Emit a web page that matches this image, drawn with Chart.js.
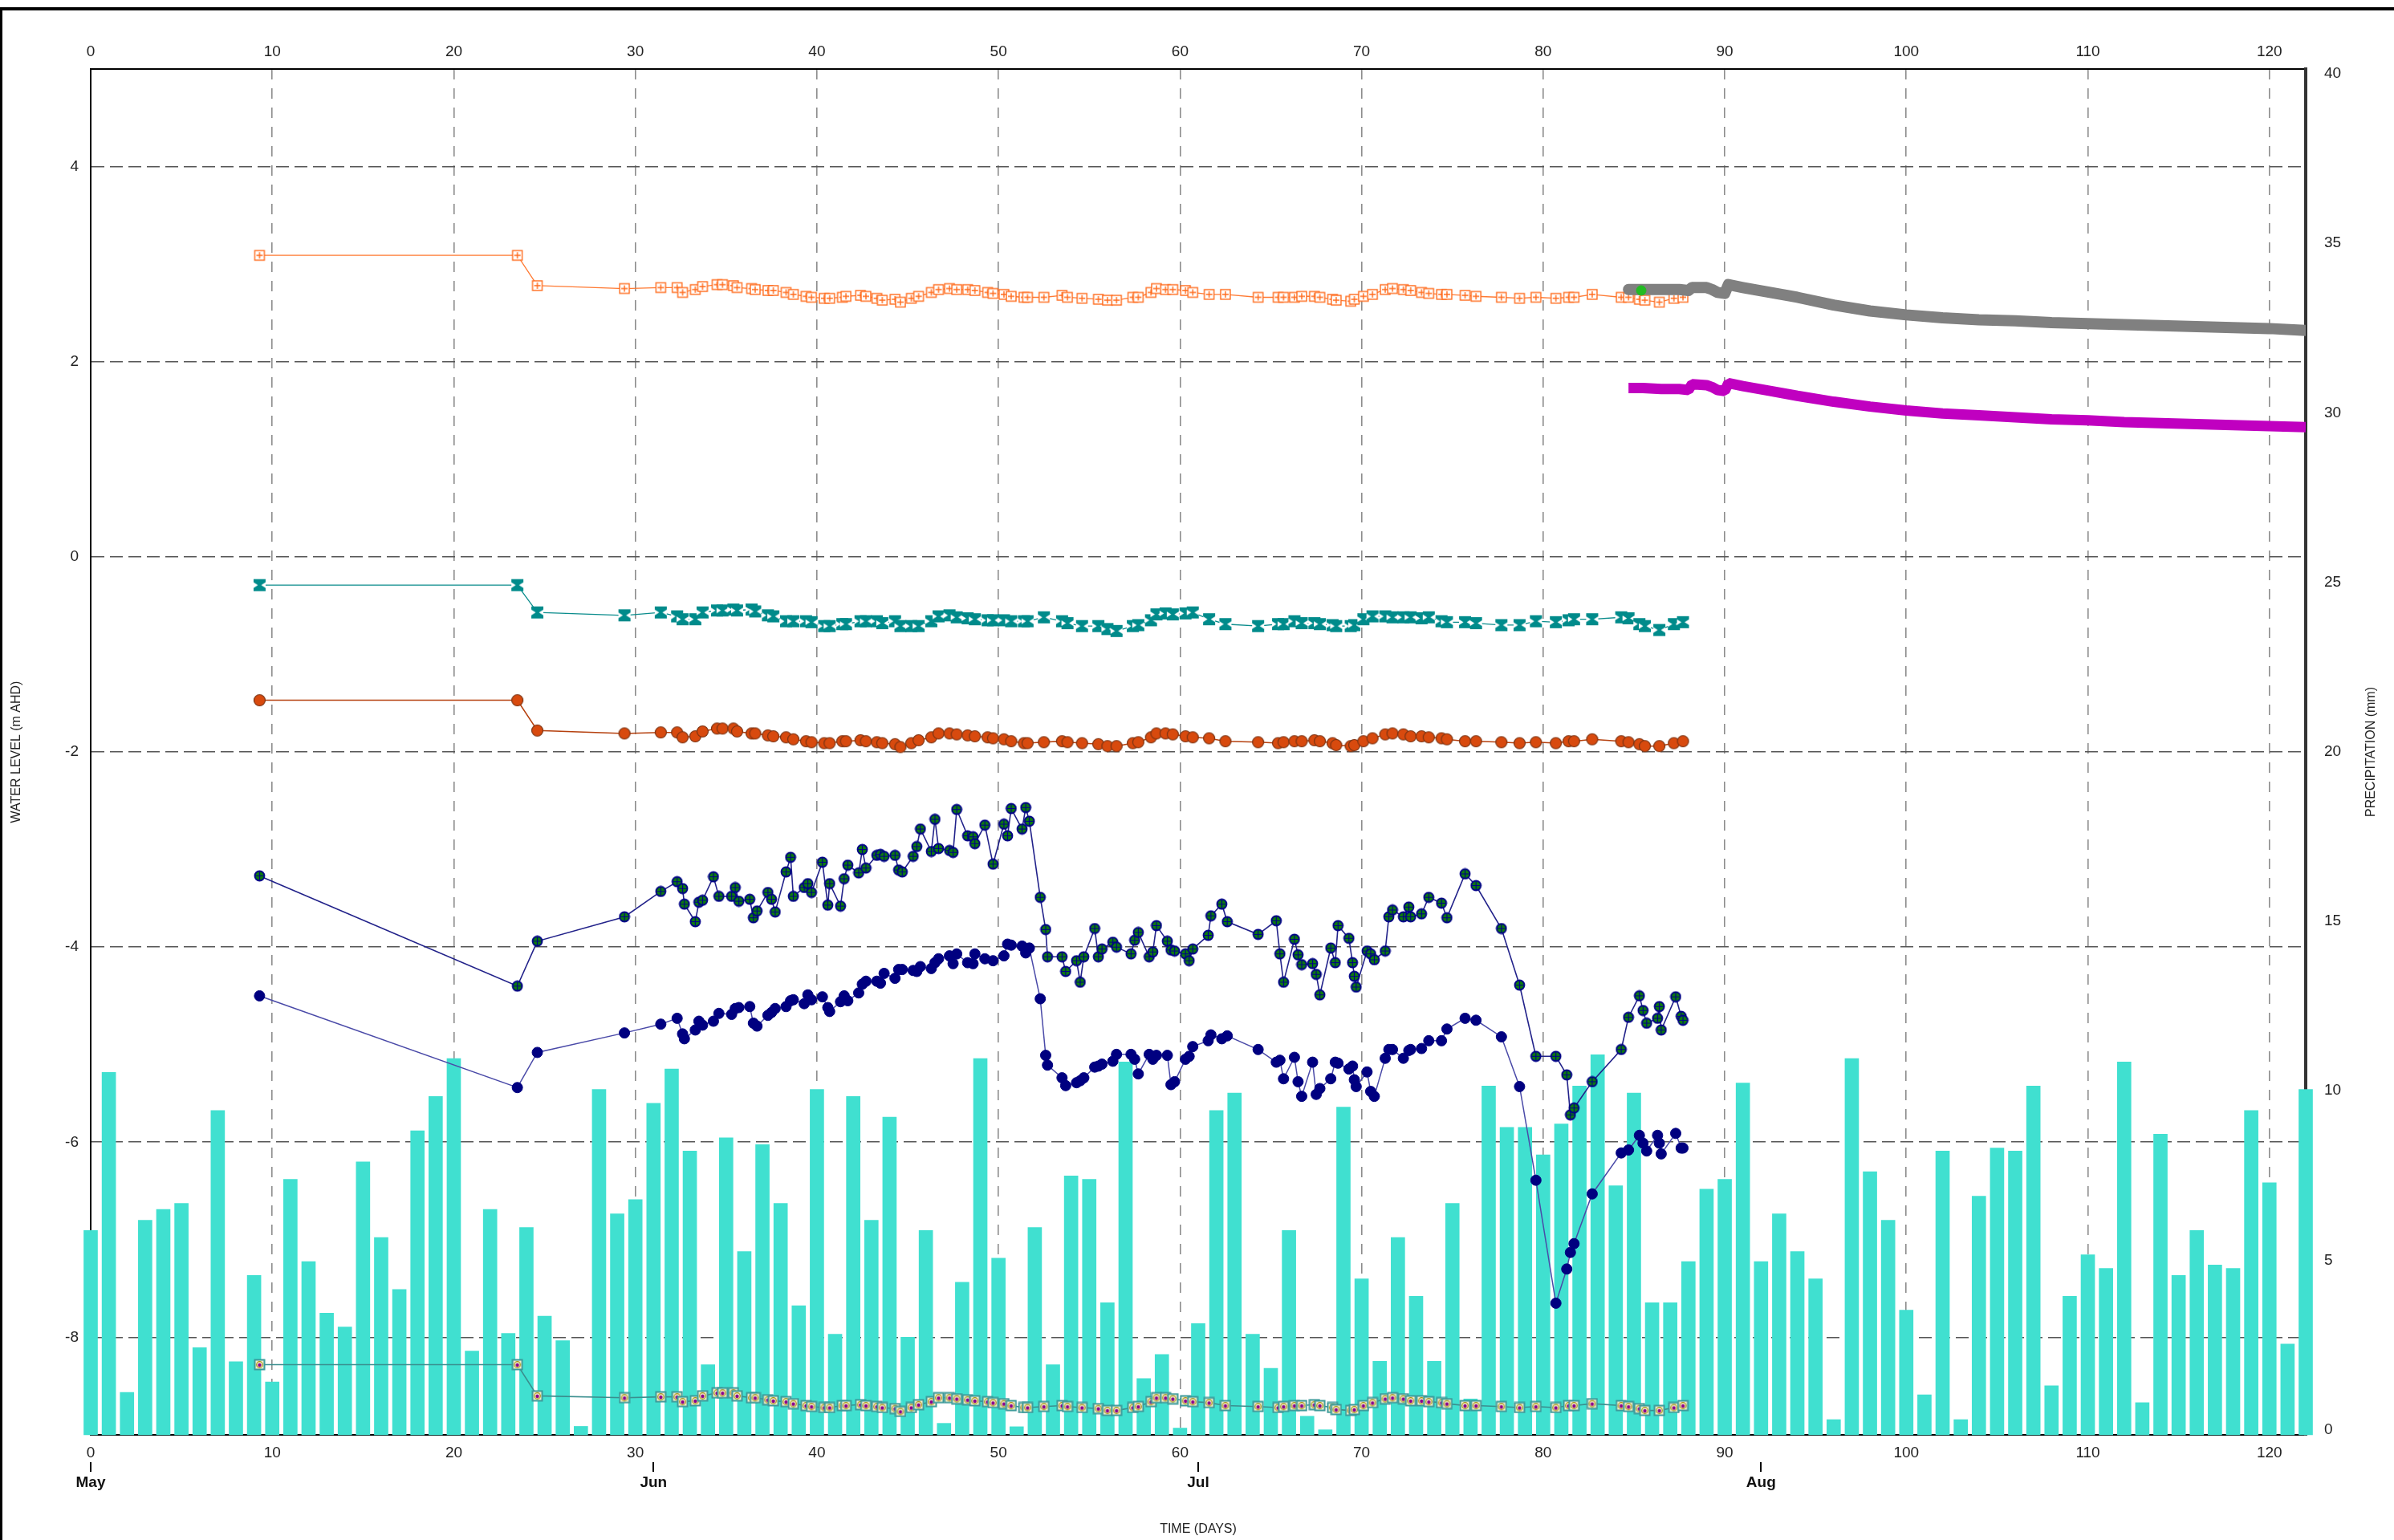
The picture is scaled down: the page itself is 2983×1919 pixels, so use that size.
<!DOCTYPE html>
<html>
<head>
<meta charset="utf-8">
<script src="https://cdn.jsdelivr.net/npm/chart.js@4.4.1/dist/chart.umd.min.js"></script>
<style>
    html, body { margin: 0; padding: 0; background: #fff; }
    #wrap { position: relative; width: 2983px; height: 1919px; overflow: hidden; }
    #chart { position: absolute; left: 0; top: 0; }
    .frame { position: absolute; background: #000; }
</style>
</head>
<body>
<div id="wrap">
    <canvas id="chart" width="2983" height="1919"></canvas>
    <div class="frame" style="left:0;top:9px;width:2983px;height:4px"></div>
    <div class="frame" style="left:0;top:9px;width:3px;height:1910px"></div>
</div>
<script>
// axis ticks
const dayTicks = [0, 10, 20, 30, 40, 50, 60, 70, 80, 90, 100, 110, 120];
const levelTicks = [-8, -6, -4, -2, 0, 2, 4];
const precipTicks = [0, 5, 10, 15, 20, 25, 30, 35, 40];
const monthDays = [0, 31, 61, 92];
const monthNames = ['May', 'Jun', 'Jul', 'Aug'];

// daily precipitation (mm), day 0 .. 122
const precip = [
    5.88, 10.54, 1.10, 6.18, 6.50, 6.68, 2.42, 9.42, 2.01, 4.55,
    1.41, 7.39, 4.96, 3.44, 3.03, 7.90, 5.67, 4.14, 8.82, 9.83,
    10.95, 2.32, 6.50, 2.84, 5.97, 3.35, 2.63, 0.10, 10.04, 6.37,
    6.79, 9.63, 10.64, 8.22, 1.92, 8.61, 5.26, 8.41, 6.68, 3.66,
    10.04, 2.82, 9.83, 6.18, 9.22, 2.73, 5.88, 0.19, 4.35, 10.95,
    5.06, 0.09, 5.97, 1.92, 7.49, 7.39, 3.75, 10.85, 1.51, 2.22,
    0.05, 3.13, 9.42, 9.93, 2.82, 1.81, 5.88, 0.40, 0, 9.52,
    4.45, 2.02, 5.67, 3.94, 2.02, 6.68, 0.91, 10.14, 8.92, 8.92,
    8.11, 9.02, 10.14, 11.06, 7.20, 9.93, 3.75, 3.75, 4.96, 7.10,
    7.39, 10.23, 4.96, 6.37, 5.26, 4.45, 0.30, 10.95, 7.61, 6.18,
    3.53, 1.03, 8.22, 0.30, 6.89, 8.31, 8.22, 10.14, 1.30, 3.94,
    5.16, 4.76, 10.85, 0.80, 8.72, 4.55, 5.88, 4.86, 4.76, 9.42,
    7.29, 2.53, 10.04
];

// manual readings: shallow bores
const boreDays = [
    9.3, 23.5, 24.6, 29.4, 31.4, 32.3, 32.6, 33.3, 33.7, 34.5,
    34.8, 35.4, 35.6, 36.4, 36.6, 37.3, 37.6, 38.3, 38.7, 39.4,
    39.7, 40.4, 40.7, 41.4, 41.6, 42.4, 42.7, 43.3, 43.6, 44.3,
    44.6, 45.2, 45.6, 46.3, 46.7, 47.3, 47.7, 48.3, 48.7, 49.4,
    49.7, 50.3, 50.7, 51.4, 51.6, 52.5, 53.5, 53.8, 54.6, 55.5,
    56.0, 56.5, 57.4, 57.7, 58.4, 58.7, 59.2, 59.6, 60.3, 60.7,
    61.6, 62.5, 64.3, 65.4, 65.7, 66.3, 66.7, 67.4, 67.7, 68.4,
    68.6, 69.4, 69.6, 70.1, 70.6, 71.3, 71.7, 72.3, 72.7, 73.3,
    73.7, 74.4, 74.7, 75.7, 76.3, 77.7, 78.7, 79.6, 80.7, 81.4,
    81.7, 82.7, 84.3, 84.7, 85.3, 85.6, 86.4, 87.2, 87.7
];
const orangeLevel = [
    3.09, 3.09, 2.78, 2.75, 2.76, 2.76, 2.71, 2.74, 2.77, 2.79,
    2.79, 2.78, 2.76, 2.75, 2.74, 2.73, 2.73, 2.71, 2.69, 2.67,
    2.66, 2.65, 2.65, 2.66, 2.67, 2.68, 2.67, 2.65, 2.63, 2.64,
    2.61, 2.65, 2.67, 2.71, 2.74, 2.75, 2.74, 2.74, 2.73, 2.71,
    2.70, 2.69, 2.67, 2.66, 2.66, 2.66, 2.68, 2.66, 2.65, 2.64,
    2.63, 2.63, 2.66, 2.66, 2.71, 2.75, 2.74, 2.74, 2.73, 2.71,
    2.69, 2.69, 2.66, 2.66, 2.66, 2.66, 2.67, 2.67, 2.66, 2.64,
    2.63, 2.62, 2.64, 2.67, 2.69, 2.74, 2.75, 2.74, 2.73, 2.71,
    2.70, 2.69, 2.69, 2.68, 2.67, 2.66, 2.65, 2.66, 2.65, 2.66,
    2.66, 2.69, 2.66, 2.66, 2.64, 2.63, 2.61, 2.65, 2.66
];
const tealLevel = [
    -0.29, -0.29, -0.57, -0.60, -0.57, -0.61, -0.64, -0.64, -0.57, -0.55,
    -0.55, -0.54, -0.55, -0.54, -0.56, -0.60, -0.61, -0.66, -0.66, -0.66,
    -0.67, -0.71, -0.71, -0.69, -0.69, -0.66, -0.66, -0.66, -0.68, -0.66,
    -0.71, -0.71, -0.71, -0.66, -0.61, -0.60, -0.62, -0.63, -0.64, -0.65,
    -0.65, -0.65, -0.66, -0.66, -0.66, -0.62, -0.66, -0.68, -0.71, -0.71,
    -0.74, -0.76, -0.71, -0.70, -0.65, -0.59, -0.58, -0.59, -0.58, -0.57,
    -0.64, -0.69, -0.71, -0.69, -0.69, -0.66, -0.68, -0.68, -0.69, -0.70,
    -0.71, -0.71, -0.70, -0.64, -0.61, -0.61, -0.62, -0.62, -0.62, -0.63,
    -0.62, -0.66, -0.67, -0.67, -0.68, -0.70, -0.70, -0.66, -0.67, -0.65,
    -0.64, -0.64, -0.62, -0.63, -0.69, -0.71, -0.75, -0.69, -0.67
];
const brownLevel = [
    -1.47, -1.47, -1.78, -1.81, -1.80, -1.80, -1.85, -1.84, -1.79, -1.76,
    -1.76, -1.76, -1.79, -1.81, -1.81, -1.83, -1.84, -1.85, -1.87, -1.89,
    -1.90, -1.91, -1.91, -1.89, -1.89, -1.88, -1.89, -1.90, -1.91, -1.92,
    -1.95, -1.91, -1.88, -1.85, -1.81, -1.81, -1.82, -1.83, -1.84, -1.85,
    -1.86, -1.87, -1.89, -1.91, -1.91, -1.90, -1.89, -1.90, -1.91, -1.92,
    -1.94, -1.94, -1.91, -1.90, -1.85, -1.81, -1.81, -1.82, -1.84, -1.85,
    -1.86, -1.89, -1.90, -1.91, -1.90, -1.89, -1.89, -1.88, -1.89, -1.91,
    -1.93, -1.94, -1.93, -1.89, -1.86, -1.82, -1.81, -1.82, -1.84, -1.84,
    -1.85, -1.86, -1.87, -1.89, -1.89, -1.90, -1.91, -1.90, -1.91, -1.89,
    -1.89, -1.87, -1.89, -1.90, -1.92, -1.94, -1.94, -1.91, -1.89
];
const deepLevel = [
    -8.28, -8.28, -8.60, -8.62, -8.61, -8.61, -8.66, -8.65, -8.60, -8.57,
    -8.57, -8.57, -8.60, -8.62, -8.62, -8.64, -8.65, -8.66, -8.68, -8.70,
    -8.71, -8.72, -8.72, -8.70, -8.70, -8.69, -8.70, -8.71, -8.72, -8.73,
    -8.76, -8.72, -8.69, -8.66, -8.62, -8.62, -8.63, -8.64, -8.65, -8.66,
    -8.67, -8.68, -8.70, -8.72, -8.72, -8.71, -8.70, -8.71, -8.72, -8.73,
    -8.75, -8.75, -8.72, -8.71, -8.66, -8.62, -8.62, -8.63, -8.65, -8.66,
    -8.67, -8.70, -8.71, -8.72, -8.71, -8.70, -8.70, -8.69, -8.70, -8.72,
    -8.74, -8.75, -8.74, -8.70, -8.67, -8.63, -8.62, -8.63, -8.65, -8.65,
    -8.66, -8.67, -8.68, -8.70, -8.70, -8.71, -8.72, -8.71, -8.72, -8.70,
    -8.70, -8.68, -8.70, -8.71, -8.73, -8.75, -8.75, -8.72, -8.70
];

// manual readings: navy bores
const navyDays = [
    9.3, 23.5, 24.6, 29.4, 31.4, 32.3, 32.6, 32.7, 33.3, 33.5,
    33.7, 34.3, 34.6, 35.3, 35.5, 35.7, 36.3, 36.5, 36.7, 37.3,
    37.5, 37.7, 38.3, 38.55, 38.7, 39.3, 39.5, 39.7, 40.3, 40.6,
    40.7, 41.3, 41.5, 41.7, 42.3, 42.5, 42.7, 43.3, 43.5, 43.7,
    44.3, 44.5, 44.7, 45.3, 45.5, 45.7, 46.3, 46.5, 46.7, 47.3,
    47.5, 47.7, 48.3, 48.6, 48.7, 49.25, 49.7, 50.3, 50.5, 50.7,
    51.3, 51.5, 51.7, 52.3, 52.6, 52.7, 53.5, 53.7, 54.3, 54.5,
    54.7, 55.3, 55.5, 55.7, 56.3, 56.5, 57.3, 57.5, 57.7, 58.3,
    58.5, 58.7, 59.3, 59.5, 59.7, 60.3, 60.5, 60.7, 61.55, 61.7,
    62.3, 62.6, 64.3, 65.3, 65.5, 65.7, 66.3, 66.5, 66.7, 67.3,
    67.5, 67.7, 68.3, 68.55, 68.7, 69.3, 69.5, 69.6, 69.7, 70.3,
    70.5, 70.7, 71.3, 71.5, 71.7, 72.3, 72.6, 72.7, 73.3, 73.7,
    74.4, 74.7, 75.7, 76.3, 77.7, 78.7, 79.6, 80.7, 81.3, 81.5,
    81.7, 82.7, 84.3, 84.7, 85.3, 85.5, 85.7, 86.3, 86.4, 86.5,
    87.3, 87.6, 87.7
];
const navyUpper = [
    -3.27, -4.40, -3.94, -3.69, -3.43, -3.33, -3.40, -3.56, -3.74, -3.54,
    -3.52, -3.28, -3.48, -3.48, -3.39, -3.53, -3.51, -3.70, -3.63, -3.44,
    -3.51, -3.64, -3.23, -3.08, -3.48, -3.39, -3.35, -3.44, -3.13, -3.57,
    -3.35, -3.58, -3.30, -3.16, -3.24, -3.00, -3.19, -3.06, -3.05, -3.07,
    -3.06, -3.21, -3.23, -3.07, -2.97, -2.79, -3.02, -2.69, -2.99, -3.01,
    -3.03, -2.59, -2.86, -2.87, -2.94, -2.75, -3.15, -2.74, -2.86, -2.58,
    -2.79, -2.57, -2.71, -3.49, -3.82, -4.10, -4.10, -4.25, -4.14, -4.36,
    -4.10, -3.81, -4.10, -4.02, -3.95, -4.00, -4.07, -3.93, -3.85, -4.10,
    -4.05, -3.78, -3.94, -4.03, -4.04, -4.07, -4.14, -4.02, -3.88, -3.68,
    -3.56, -3.74, -3.87, -3.73, -4.07, -4.36, -3.92, -4.08, -4.18, -4.17,
    -4.28, -4.49, -4.01, -4.16, -3.78, -3.91, -4.16, -4.30, -4.41, -4.04,
    -4.07, -4.13, -4.04, -3.69, -3.62, -3.69, -3.59, -3.69, -3.66, -3.49,
    -3.55, -3.70, -3.25, -3.37, -3.81, -4.39, -5.12, -5.12, -5.31, -5.72,
    -5.65, -5.38, -5.05, -4.72, -4.50, -4.65, -4.78, -4.73, -4.61, -4.85,
    -4.51, -4.71, -4.75
];
const navyLower = [
    -4.50, -5.44, -5.08, -4.88, -4.79, -4.73, -4.89, -4.94, -4.85, -4.76,
    -4.80, -4.76, -4.68, -4.69, -4.63, -4.62, -4.61, -4.78, -4.81, -4.70,
    -4.67, -4.63, -4.61, -4.55, -4.54, -4.58, -4.49, -4.54, -4.51, -4.62,
    -4.66, -4.56, -4.50, -4.55, -4.47, -4.38, -4.35, -4.35, -4.37, -4.27,
    -4.32, -4.23, -4.23, -4.24, -4.25, -4.20, -4.22, -4.16, -4.12, -4.09,
    -4.17, -4.07, -4.16, -4.17, -4.07, -4.12, -4.14, -4.09, -3.97, -3.98,
    -3.99, -4.06, -4.01, -4.53, -5.11, -5.21, -5.34, -5.42, -5.39, -5.37,
    -5.34, -5.23, -5.22, -5.20, -5.17, -5.10, -5.10, -5.15, -5.30, -5.10,
    -5.15, -5.11, -5.11, -5.41, -5.38, -5.15, -5.12, -5.02, -4.96, -4.90,
    -4.94, -4.91, -5.05, -5.18, -5.16, -5.35, -5.13, -5.38, -5.53, -5.18,
    -5.51, -5.45, -5.35, -5.18, -5.19, -5.25, -5.22, -5.36, -5.43, -5.28,
    -5.48, -5.53, -5.14, -5.05, -5.05, -5.14, -5.06, -5.05, -5.04, -4.96,
    -4.96, -4.84, -4.73, -4.75, -4.92, -5.43, -6.39, -7.65, -7.30, -7.13,
    -7.04, -6.53, -6.11, -6.08, -5.93, -6.01, -6.09, -5.93, -6.01, -6.12,
    -5.91, -6.06, -6.06
];

// logger records
const loggerDays = [
    84.7, 85.5, 86.5, 87.5, 88.0, 88.2, 89.0, 89.3, 89.6, 90.0,
    90.2, 91.0, 92.5, 94, 96, 98, 100, 102, 104, 106,
    108, 110, 112, 114, 116, 118, 120, 122
];
const grayLevel = [
    2.74, 2.74, 2.74, 2.74, 2.73, 2.76, 2.76, 2.74, 2.71, 2.70,
    2.79, 2.76, 2.71, 2.66, 2.58, 2.52, 2.48, 2.45, 2.43, 2.42,
    2.40, 2.39, 2.38, 2.37, 2.36, 2.35, 2.34, 2.32
];
const magentaLevel = [
    1.73, 1.73, 1.72, 1.72, 1.71, 1.77, 1.76, 1.74, 1.71, 1.70,
    1.78, 1.75, 1.70, 1.65, 1.59, 1.54, 1.50, 1.47, 1.45, 1.43,
    1.41, 1.40, 1.38, 1.37, 1.36, 1.35, 1.34, 1.33
];
const greenDays = [85.4];
const greenLevel = [2.73];

const FONT = '"Liberation Sans", Arial, sans-serif';
const PRECIP_MIN = -0.15;

function pts(xs, ys) {
    return xs.map((x, i) => ({ x: x, y: ys[i] }));
}

// point marker images
function makeMarker(size, draw) {
    const c = document.createElement('canvas');
    c.width = size;
    c.height = size;
    draw(c.getContext('2d'), size);
    return c;
}

const orangeMark = makeMarker(16, (g, s) => {
    g.fillStyle = '#fff';
    g.fillRect(2, 2, s - 4, s - 4);
    g.strokeStyle = '#FF6A1A';
    g.lineWidth = 1.4;
    g.strokeRect(2, 2, s - 4, s - 4);
    g.beginPath();
    g.moveTo(s / 2, 4); g.lineTo(s / 2, s - 4);
    g.moveTo(4, s / 2); g.lineTo(s - 4, s / 2);
    g.stroke();
});

const tealMark = makeMarker(17, (g, s) => {
    g.fillStyle = '#008B8B';
    g.fillRect(1, 1, s - 2, s - 2);
    g.fillStyle = '#fff';
    g.beginPath();
    g.moveTo(1, 5); g.lineTo(6.5, s / 2); g.lineTo(1, s - 5); g.closePath();
    g.moveTo(s - 1, 5); g.lineTo(s - 6.5, s / 2); g.lineTo(s - 1, s - 5); g.closePath();
    g.fill();
});

const brownMark = makeMarker(17, (g, s) => {
    g.beginPath();
    g.arc(s / 2, s / 2, 7, 0, Math.PI * 2);
    g.fillStyle = '#D84A0E';
    g.fill();
    g.strokeStyle = '#7A3414';
    g.lineWidth = 1.2;
    g.stroke();
});

const navyCrossMark = makeMarker(15, (g, s) => {
    g.beginPath();
    g.arc(s / 2, s / 2, 6, 0, Math.PI * 2);
    g.fillStyle = '#0C7C0C';
    g.fill();
    g.strokeStyle = '#000088';
    g.lineWidth = 1.8;
    g.stroke();
    g.lineWidth = 1.2;
    g.beginPath();
    g.moveTo(s / 2, 2); g.lineTo(s / 2, s - 2);
    g.moveTo(2, s / 2); g.lineTo(s - 2, s / 2);
    g.stroke();
});

const deepMark = makeMarker(15, (g, s) => {
    g.fillStyle = '#F2EFD0';
    g.fillRect(1.5, 1.5, s - 3, s - 3);
    g.strokeStyle = '#3C9A9A';
    g.lineWidth = 2;
    g.strokeRect(1.5, 1.5, s - 3, s - 3);
    g.beginPath();
    g.arc(s / 2, s / 2, 3.8, 0, Math.PI * 2);
    g.strokeStyle = '#A89010';
    g.lineWidth = 1.2;
    g.stroke();
    g.beginPath();
    g.arc(s / 2, s / 2 + 0.5, 2.2, 0, Math.PI * 2);
    g.fillStyle = '#8B008B';
    g.fill();
});

function lineSet(data, color, width, marker, order) {
    return {
        type: 'line',
        data: data,
        xAxisID: 'x',
        yAxisID: 'y',
        borderColor: color,
        backgroundColor: color,
        borderWidth: width,
        pointStyle: marker,
        pointRadius: 7,
        tension: 0,
        order: order,
    };
}

// right-hand axis title reads bottom-to-top like the left one
const rightTitle = {
    id: 'rightTitle',
    afterDraw(chart) {
        const { ctx } = chart;
        const s = chart.scales.y2;
        ctx.save();
        ctx.translate(2955, (s.top + s.bottom) / 2);
        ctx.rotate(-Math.PI / 2);
        ctx.font = '16px ' + FONT;
        ctx.fillStyle = '#222';
        ctx.textAlign = 'center';
        ctx.textBaseline = 'middle';
        ctx.fillText('PRECIPITATION (mm)', 0, 0);
        ctx.restore();
    },
};

const tickFont = { family: FONT, size: 19 };

new Chart(document.getElementById('chart').getContext('2d'), {
    type: 'line',
    data: {
        datasets: [
            {
                type: 'bar',
                data: precip.map((v, i) => ({ x: i, y: v })),
                xAxisID: 'x',
                yAxisID: 'y2',
                backgroundColor: '#40E0D0',
                borderWidth: 0,
                barThickness: 17,
                base: PRECIP_MIN,
                clip: false,
                order: 20,
            },
            lineSet(pts(boreDays, orangeLevel), '#FF7A33', 1.3, orangeMark, 7),
            lineSet(pts(boreDays, tealLevel), '#0A8C8C', 1.3, tealMark, 7),
            lineSet(pts(boreDays, brownLevel), '#B5400E', 1.5, brownMark, 7),
            lineSet(pts(boreDays, deepLevel), '#3A8E8E', 1.6, deepMark, 7),
            lineSet(pts(navyDays, navyUpper), '#22228A', 1.6, navyCrossMark, 6),
            Object.assign(lineSet(pts(navyDays, navyLower), '#4A4AA8', 1.5, 'circle', 6), {
                pointRadius: 6.5,
                pointBackgroundColor: '#000080',
                pointBorderColor: '#000080',
                pointBorderWidth: 1,
            }),
            Object.assign(lineSet(pts(loggerDays, grayLevel), '#808080', 14, false, 5), {
                pointRadius: 0,
                borderCapStyle: 'round',
                borderJoinStyle: 'round',
            }),
            Object.assign(lineSet(pts(loggerDays, magentaLevel), '#C000C0', 13, false, 5), {
                pointRadius: 0,
                borderJoinStyle: 'bevel',
            }),
            Object.assign(lineSet(pts(greenDays, greenLevel), '#22BB22', 1, 'circle', 1), {
                pointRadius: 6,
                showLine: false,
            }),
        ],
    },
    options: {
        responsive: false,
        animation: false,
        devicePixelRatio: 1,
        layout: { padding: 0 },
        plugins: {
            legend: { display: false },
            tooltip: { enabled: false },
        },
        scales: {
            x: {
                type: 'linear',
                position: 'bottom',
                min: 0,
                max: 122,
                offset: false,
                z: 1,
                afterBuildTicks: s => { s.ticks = dayTicks.map(v => ({ value: v })); },
                afterFit: s => { s.height = 34; },
                ticks: { font: tickFont, color: '#222', padding: 11, maxRotation: 0, autoSkip: false },
                grid: {
                    offset: false,
                    drawTicks: false,
                    lineWidth: 1.6,
                    color: c => (c.tick && c.tick.value === 0 ? 'rgba(0,0,0,0)' : '#8C8C8C'),
                },
                border: { color: '#000', width: 2, dash: [13, 11] },
            },
            xMonth: {
                type: 'linear',
                position: 'bottom',
                weight: 1,
                min: 0,
                max: 122,
                afterBuildTicks: s => { s.ticks = monthDays.map(v => ({ value: v })); },
                afterFit: s => { s.height = 97; },
                ticks: {
                    font: { family: FONT, size: 19, weight: 'bold' },
                    color: '#111',
                    padding: 2,
                    maxRotation: 0,
                    autoSkip: false,
                    callback: v => monthNames[monthDays.indexOf(v)],
                },
                grid: { drawOnChartArea: false, drawTicks: true, tickLength: 12, color: '#000', lineWidth: 2 },
                border: { display: false },
                title: {
                    display: true,
                    text: 'TIME (DAYS)',
                    font: { family: FONT, size: 16 },
                    color: '#222',
                    padding: { top: 0, bottom: 4 },
                },
            },
            xTop: {
                type: 'linear',
                position: 'top',
                min: 0,
                max: 122,
                afterBuildTicks: s => { s.ticks = dayTicks.map(v => ({ value: v })); },
                afterFit: s => { s.height = 86; },
                ticks: { font: tickFont, color: '#222', padding: 10, maxRotation: 0, autoSkip: false },
                grid: { drawOnChartArea: false, drawTicks: false },
                border: { color: '#000', width: 2 },
            },
            y: {
                type: 'linear',
                position: 'left',
                min: -9,
                max: 5,
                z: 1,
                afterBuildTicks: s => { s.ticks = levelTicks.map(v => ({ value: v })); },
                afterFit: s => { s.width = 113; },
                ticks: { font: tickFont, color: '#222', padding: 15 },
                grid: { drawTicks: false, lineWidth: 1.6, color: '#555' },
                border: { color: '#000', width: 2, dash: [16, 7] },
                title: {
                    display: true,
                    text: 'WATER LEVEL (m AHD)',
                    font: { family: FONT, size: 16 },
                    color: '#222',
                    padding: { top: 11, bottom: 0 },
                },
            },
            y2: {
                type: 'linear',
                position: 'right',
                min: PRECIP_MIN,
                max: 40.14,
                afterBuildTicks: s => { s.ticks = precipTicks.map(v => ({ value: v })); },
                afterFit: s => { s.width = 110; },
                ticks: { font: tickFont, color: '#222', padding: 15 },
                grid: { display: false, drawOnChartArea: false },
                border: { color: '#333', width: 4 },
            },
        },
    },
    plugins: [rightTitle],
});
</script>
</body>
</html>
